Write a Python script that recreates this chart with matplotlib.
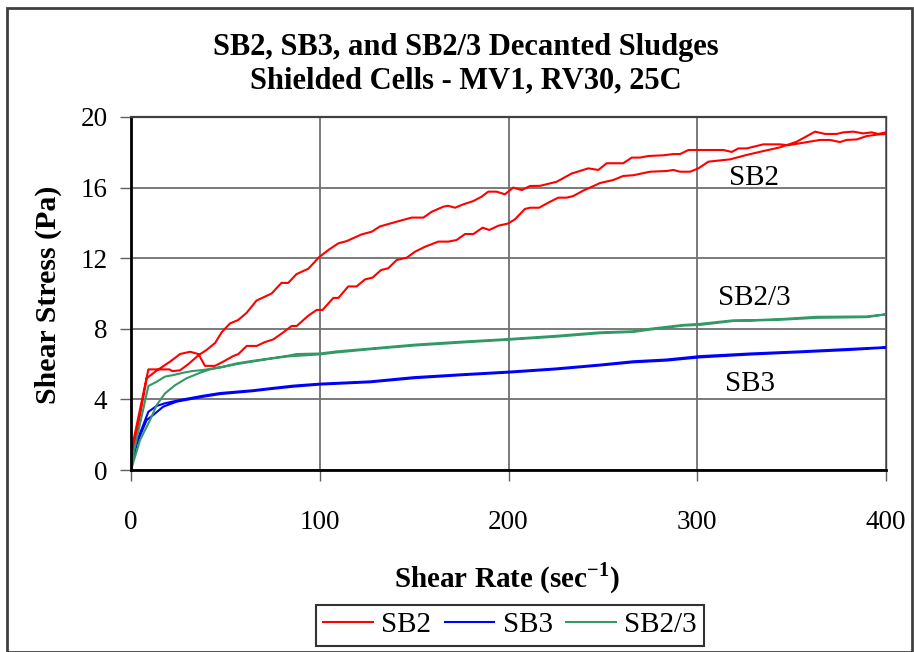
import numpy as np
import matplotlib
matplotlib.use("Agg")
import matplotlib.pyplot as plt
from matplotlib.patches import Rectangle

plt.rcParams['font.family'] = ['Liberation Serif', 'DejaVu Serif']
plt.rcParams['mathtext.fontset'] = 'custom'
plt.rcParams['mathtext.rm'] = 'Liberation Serif'
plt.rcParams['mathtext.bf'] = 'Liberation Serif:bold'

# SB2 - loop, first branch (hump near 30 1/s), second branch back to 0
sb2_a_x = [0, 5.3, 8.3, 13.6, 20.7, 26, 31.3, 35.7, 39.2, 44.5, 48.9, 54.2, 56.9, 61.3, 66.6, 71, 75.4,
           80.7, 85.1, 87.8, 93.9, 98.4, 101.5, 107.2, 109.9, 115.1, 119.5, 124, 128, 132.5, 136.3,
           140.8, 146.1, 150.5, 155.8, 162.8, 168.1, 172.5, 177, 181.4, 186.3, 189.8, 194.6, 199.9,
           203.4, 208.7, 211.4, 216.2, 222, 226.4, 230.8, 234.3, 239.6, 243.2, 248.5, 255.5, 260.8,
           266.1, 275, 283.8, 287.3, 290.9, 296.2, 300.6, 305.9, 317.4, 326.2, 335, 343.8, 352.7,
           362.4, 367.7, 373.9, 377.4, 382.7, 388, 392.4, 395.9, 400]
sb2_a_y = [0.5, 3.4, 5.2, 5.63, 6.14, 6.57, 6.7, 6.57, 5.9, 5.9, 6.14, 6.46, 6.57, 7.03, 7.03, 7.25, 7.4,
           7.8, 8.16, 8.16, 8.74, 9.07, 9.07, 9.75, 9.75, 10.4, 10.4, 10.8, 10.9, 11.33, 11.43,
           11.9, 12.03, 12.37, 12.65, 12.94, 12.94, 13.03, 13.37, 13.37, 13.73, 13.6, 13.84, 13.97,
           14.2, 14.79, 14.86, 14.86, 15.2, 15.43, 15.43, 15.52, 15.83, 16.0, 16.26, 16.43, 16.66,
           16.7, 16.9, 16.94, 17.0, 16.9, 16.9, 17.09, 17.47, 17.6, 17.85, 18.07, 18.28, 18.6,
           19.17, 19.04, 19.04, 19.13, 19.17, 19.07, 19.13, 19.04, 19.13]
sb2_b_x = [400, 395.1, 389.8, 384.5, 379.1, 375.6, 370.3, 365, 356.2, 348.2, 343.8, 335, 326.2, 321.8,
           318.3, 313.8, 305.9, 295.3, 290.9, 287.3, 282, 274.1, 269.7, 265.3, 260.8, 252, 247.6,
           242.3, 233.5, 225.5, 216.7, 211.4, 207, 202.5, 198.1, 193.7, 189.3, 185.8, 181.4, 176,
           171.7, 168, 165.5, 159.3, 154.9, 148.7, 140.8, 131.9, 127.5, 122.2, 114.3, 109.8, 104.5,
           99.6, 93.9, 87.7, 83.3, 79.7, 74.5, 66.5, 61.2, 56.8, 52.4, 48, 44.6, 40, 35.7, 30.4,
           26, 22, 20.3, 9.2, 0]
sb2_b_y = [19.04, 19.0, 18.92, 18.73, 18.7, 18.58, 18.7, 18.7, 18.54, 18.4, 18.45, 18.45, 18.22, 18.22,
           18.02, 18.13, 18.13, 18.13, 17.9, 17.9, 17.83, 17.79, 17.7, 17.7, 17.38, 17.38, 17.0,
           17.09, 16.8, 16.33, 16.1, 16.09, 15.86, 16.0, 15.62, 15.77, 15.77, 15.49, 15.24, 15.05,
           14.86, 14.97, 14.92, 14.63, 14.3, 14.3, 14.07, 13.8, 13.5, 13.35, 12.97, 12.84, 12.46,
           12.05, 11.4, 11.1, 10.6, 10.6, 10.0, 9.6, 8.9, 8.5, 8.3, 7.8, 7.2, 6.8, 6.5, 6.0,
           5.65, 5.6, 5.7, 5.7, 1.0]

# SB3
sb3_a_x = [0, 3, 8.3, 11.8, 17.1, 24.2, 38.3, 47.2, 64.8, 73.6, 86, 100, 126.6, 150, 175, 200, 225,
           248.5, 266.1, 283.8, 301.4, 327.8, 354.3, 380.8, 400]
sb3_a_y = [0, 1.5, 2.83, 3.12, 3.59, 3.87, 4.15, 4.3, 4.47, 4.58, 4.72, 4.84, 4.97, 5.2, 5.37, 5.52, 5.7,
           5.92, 6.1, 6.2, 6.38, 6.54, 6.67, 6.8, 6.93]
sb3_b_x = [400, 380.8, 354.3, 327.8, 301.4, 283.8, 266.1, 248.5, 225, 200, 175, 150, 126.6, 100, 86,
           73.6, 64.8, 47.2, 38.3, 26, 18, 13.6, 9.2, 4.8, 0]
sb3_b_y = [6.96, 6.86, 6.72, 6.6, 6.45, 6.26, 6.16, 5.97, 5.75, 5.57, 5.42, 5.26, 5.02, 4.89, 4.78,
           4.63, 4.52, 4.36, 4.21, 3.97, 3.78, 3.63, 3.3, 2.08, 0.6]

# SB2/3
sb23_a_x = [0, 4.8, 10.1, 13.6, 18, 23.3, 29.5, 36.6, 41.9, 48.9, 56, 64.8, 73.6, 82.5, 100, 109,
            126.6, 150, 175, 200, 225, 248.5, 266.1, 274.9, 292.6, 301.4, 319, 327.8, 345.6, 363.3,
            389.8, 400]
sb23_a_y = [0, 1.7, 2.83, 3.68, 4.34, 4.8, 5.2, 5.51, 5.7, 5.84, 6.0, 6.15, 6.3, 6.43, 6.55, 6.66,
            6.84, 7.05, 7.22, 7.38, 7.55, 7.75, 7.82, 7.95, 8.18, 8.22, 8.44, 8.46, 8.52, 8.62,
            8.66, 8.82]
sb23_b_x = [400, 389.8, 363.3, 345.6, 327.8, 319, 301.4, 292.6, 274.9, 266.1, 248.5, 225, 200, 175,
            150, 126.6, 109, 100, 87.8, 82.5, 73.6, 64.8, 56, 48.9, 43.6, 38.3, 32.1, 27.7, 22.4,
            18, 13.6, 9.2, 0]
sb23_b_y = [8.82, 8.7, 8.68, 8.56, 8.48, 8.48, 8.28, 8.22, 8.0, 7.86, 7.8, 7.6, 7.42, 7.27, 7.1,
            6.88, 6.72, 6.6, 6.57, 6.46, 6.32, 6.19, 6.04, 5.86, 5.76, 5.67, 5.6, 5.51, 5.38,
            5.29, 5.0, 4.76, 0.3]

series = [("SB2", sb2_a_x + sb2_b_x, sb2_a_y + sb2_b_y, "#FF0000"),
          ("SB3", sb3_a_x + sb3_b_x, sb3_a_y + sb3_b_y, "#0000FF"),
          ("SB2/3", sb23_a_x + sb23_b_x, sb23_a_y + sb23_b_y, "#339966")]

fig = plt.figure(figsize=(9.14, 6.52), dpi=100)
ax = fig.add_axes([131/914, 1-470/652, 755/914, 353/652])

for name, xs, ys, col in series:
    ax.plot(xs, ys, color=col, lw=1.5, label=name)

ax.set_xlim(0, 400)
ax.set_ylim(0, 20)
ax.set_xticks([0, 100, 200, 300, 400])
ax.set_yticks([0, 4, 8, 12, 16, 20])
ax.grid(True, color="#707070", lw=1.3)
ax.tick_params(direction="out", length=8, width=1, color="#606060", labelsize=19.5)
ax.tick_params(axis="x", pad=21)
ax.tick_params(axis="y", pad=9)
for s in ["left", "bottom"]:
    ax.spines[s].set_linewidth(2)
    ax.spines[s].set_color("black")
ax.spines["top"].set_linewidth(1.6)
ax.spines["top"].set_color("#404040")
ax.spines["right"].set_linewidth(1)
ax.spines["right"].set_color("#404040")

# curve labels
ax.text(330, 16.55, "SB2", fontsize=21, ha="center", va="center")
ax.text(330, 9.75, "SB2/3", fontsize=21, ha="center", va="center")
ax.text(328, 4.9, "SB3", fontsize=21, ha="center", va="center")

fig.text(466/914, 1-48/652, "SB2, SB3, and SB2/3 Decanted Sludges", fontsize=22, fontweight="bold",
         ha="center", va="center")
fig.text(466/914, 1-81/652, "Shielded Cells - MV1, RV30, 25C", fontsize=22, fontweight="bold",
         ha="center", va="center")
fig.text(48/914, 1-295/652, "Shear Stress (Pa)", fontsize=21.5, fontweight="bold", rotation=90,
         ha="center", va="center")
fig.text(507/914, 1-578/652, r"Shear Rate (sec$^{\mathbf{-1}}$)", fontsize=21, fontweight="bold",
         ha="center", va="center")

leg = fig.legend(loc="center", bbox_to_anchor=(510/914, 1-625/652), ncol=3, fontsize=21,
                 frameon=True, fancybox=False, edgecolor="black", handlelength=1.7,
                 columnspacing=0.45, handletextpad=0.3, borderpad=0.25, borderaxespad=0)
leg.get_frame().set_linewidth(1.5)

fig.patches.append(Rectangle((7/914, 0), 905/914, 1-8/652, transform=fig.transFigure,
                             fill=False, edgecolor="#404040", lw=2))

fig.savefig("out.png", dpi=100)
